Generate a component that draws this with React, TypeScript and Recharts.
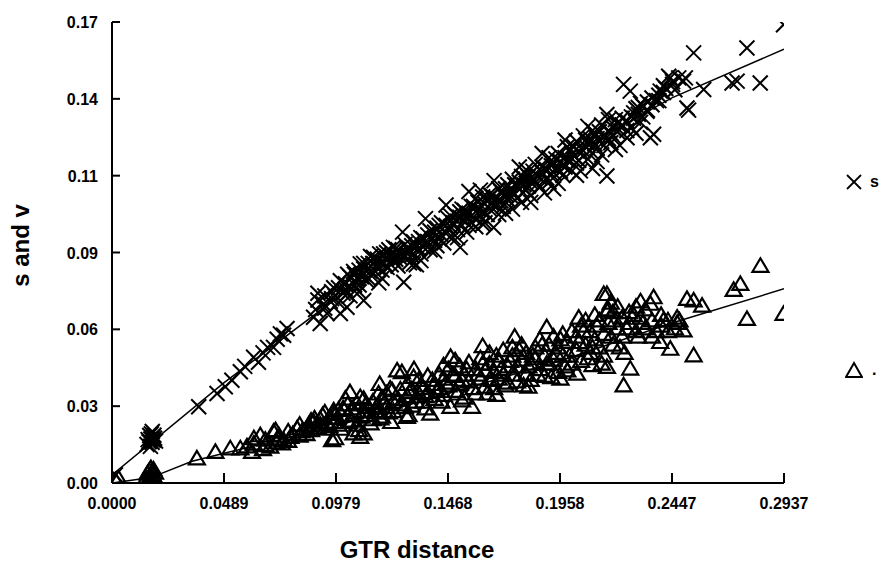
import React from 'react';
import { ScatterChart, Scatter, XAxis, YAxis } from 'recharts';

// ---- data ----
const xTicks = [0, 0.04895, 0.0979, 0.14685, 0.1958, 0.24475, 0.2937];
const xTickLabels = ['0.0000', '0.0489', '0.0979', '0.1468', '0.1958', '0.2447', '0.2937'];
const yTicks = [0, 0.028333, 0.056667, 0.085, 0.113333, 0.141667, 0.17];
const yTickLabels = ['0.00', '0.03', '0.06', '0.09', '0.11', '0.14', '0.17'];

const seriesNames = ['s', '.'];

const sPoints: [number, number][] = [
  [0.0015, 0.003], [0.0153, 0.0142], [0.0158, 0.016], [0.0162, 0.0152], [0.0165, 0.0175], [0.0168, 0.0135],
  [0.017, 0.0162], [0.0172, 0.0181], [0.0175, 0.015], [0.0178, 0.0168], [0.018, 0.0158], [0.0183, 0.0176],
  [0.0186, 0.0165], [0.019, 0.0155], [0.0176, 0.019],
  [0.0379, 0.0281], [0.0459, 0.033], [0.0495, 0.0355], [0.0524, 0.0379], [0.0561, 0.041], [0.058, 0.043],
  [0.0619, 0.0464], [0.064, 0.0445], [0.066, 0.048], [0.068, 0.05], [0.0706, 0.05], [0.0722, 0.053],
  [0.0736, 0.055], [0.0765, 0.057], [0.075, 0.0545],
  [0.0881, 0.0611], [0.089, 0.064], [0.091, 0.0588], [0.0925, 0.066], [0.094, 0.0625], [0.0954, 0.067],
  [0.0969, 0.072], [0.0975, 0.069], [0.0998, 0.0746], [0.0998, 0.0625], [0.101, 0.07], [0.1027, 0.0698],
  [0.1027, 0.0648],
  [0.1056, 0.078], [0.106, 0.073], [0.107, 0.0755], [0.1085, 0.0808], [0.109, 0.076], [0.11, 0.079],
  [0.11, 0.0673], [0.1115, 0.0746], [0.112, 0.081], [0.113, 0.078], [0.1143, 0.0832], [0.115, 0.08],
  [0.1166, 0.0738], [0.117, 0.0845], [0.1187, 0.0845], [0.119, 0.081], [0.1202, 0.0795], [0.121, 0.086],
  [0.123, 0.0869], [0.123, 0.082], [0.124, 0.084],
  [0.125, 0.08], [0.125, 0.086], [0.1275, 0.074], [0.128, 0.0835], [0.128, 0.088], [0.13, 0.0812],
  [0.13, 0.0858], [0.1318, 0.0808], [0.1318, 0.089], [0.133, 0.087], [0.135, 0.0845], [0.135, 0.0905],
  [0.135, 0.082], [0.137, 0.088], [0.139, 0.086], [0.139, 0.093], [0.14, 0.09], [0.142, 0.0875],
  [0.142, 0.094], [0.144, 0.0915], [0.144, 0.096], [0.145, 0.0885], [0.147, 0.0935], [0.147, 0.0975],
  [0.149, 0.0905], [0.149, 0.096], [0.15, 0.099], [0.1522, 0.0869], [0.153, 0.095], [0.153, 0.101],
  [0.155, 0.0925], [0.155, 0.0985], [0.157, 0.102], [0.157, 0.096], [0.159, 0.0945], [0.159, 0.1],
  [0.159, 0.105], [0.161, 0.108], [0.161, 0.0985], [0.163, 0.103], [0.163, 0.096], [0.1668, 0.0942],
  [0.165, 0.101], [0.165, 0.1065], [0.167, 0.104], [0.169, 0.099], [0.169, 0.1085], [0.171, 0.106],
  [0.171, 0.102], [0.173, 0.11], [0.173, 0.1045], [0.175, 0.101], [0.175, 0.1075], [0.175, 0.112],
  [0.177, 0.105], [0.177, 0.1095], [0.179, 0.113], [0.179, 0.1035], [0.181, 0.108], [0.181, 0.1155],
  [0.183, 0.111], [0.183, 0.106], [0.185, 0.114], [0.185, 0.1175], [0.187, 0.109], [0.187, 0.1125],
  [0.189, 0.116], [0.189, 0.107], [0.191, 0.12], [0.191, 0.111], [0.193, 0.1145], [0.193, 0.118],
  [0.195, 0.1105], [0.195, 0.1215], [0.197, 0.117], [0.197, 0.1135], [0.199, 0.124], [0.199, 0.119],
  [0.201, 0.115], [0.201, 0.1215], [0.203, 0.126], [0.203, 0.118], [0.2047, 0.1151], [0.206, 0.1225],
  [0.206, 0.128], [0.208, 0.1195], [0.208, 0.125], [0.21, 0.13], [0.21, 0.116], [0.212, 0.1235],
  [0.212, 0.127], [0.214, 0.121], [0.214, 0.132], [0.2163, 0.1132], [0.2163, 0.1359], [0.218, 0.1255],
  [0.218, 0.129], [0.22, 0.134], [0.22, 0.123], [0.2236, 0.147], [0.2251, 0.1273], [0.2265, 0.1445],
  [0.227, 0.131], [0.227, 0.135], [0.229, 0.138], [0.229, 0.129], [0.231, 0.133], [0.231, 0.14],
  [0.2338, 0.1371], [0.2353, 0.1273], [0.2367, 0.1286], [0.238, 0.141], [0.2396, 0.1445], [0.242, 0.1455],
  [0.2433, 0.15], [0.244, 0.1494], [0.246, 0.145], [0.2477, 0.1494], [0.2498, 0.1482], [0.2506, 0.1494],
  [0.2513, 0.1383], [0.252, 0.1375], [0.2542, 0.1586], [0.2586, 0.1451], [0.271, 0.1475], [0.2732, 0.1482],
  [0.2775, 0.1604], [0.2833, 0.1475], [0.2935, 0.169],
  // denser band
  [0.09, 0.0675], [0.09, 0.07], [0.093, 0.069], [0.093, 0.0645], [0.096, 0.0705], [0.096, 0.068],
  [0.099, 0.072], [0.099, 0.0665], [0.102, 0.0735], [0.102, 0.0715], [0.104, 0.076], [0.104, 0.0725],
  [0.104, 0.069], [0.106, 0.0745], [0.106, 0.077], [0.108, 0.073], [0.108, 0.0785], [0.11, 0.077],
  [0.11, 0.081], [0.112, 0.079], [0.112, 0.0755], [0.114, 0.081], [0.114, 0.0775], [0.116, 0.0795],
  [0.116, 0.0825], [0.118, 0.0815], [0.118, 0.0785], [0.12, 0.083], [0.12, 0.085], [0.122, 0.084],
  [0.122, 0.0805], [0.124, 0.0865], [0.124, 0.0825], [0.126, 0.085], [0.126, 0.083], [0.129, 0.0865],
  [0.129, 0.0845], [0.131, 0.0875], [0.131, 0.084], [0.134, 0.089], [0.134, 0.0865], [0.136, 0.09],
  [0.136, 0.087], [0.138, 0.0915], [0.138, 0.089], [0.141, 0.0925], [0.141, 0.0895], [0.143, 0.09],
  [0.143, 0.095], [0.146, 0.095], [0.146, 0.092], [0.148, 0.0945], [0.148, 0.0985], [0.151, 0.0965],
  [0.151, 0.0935], [0.152, 0.098], [0.152, 0.1], [0.154, 0.097], [0.154, 0.1005], [0.156, 0.0995],
  [0.156, 0.095], [0.158, 0.098], [0.158, 0.102], [0.16, 0.101], [0.16, 0.1035], [0.162, 0.1],
  [0.162, 0.1055], [0.164, 0.1045], [0.164, 0.099], [0.166, 0.103], [0.166, 0.106], [0.168, 0.105],
  [0.168, 0.102], [0.17, 0.1075], [0.17, 0.104], [0.172, 0.1065], [0.172, 0.1085], [0.174, 0.108],
  [0.174, 0.106], [0.176, 0.11], [0.176, 0.1065], [0.178, 0.1085], [0.178, 0.111], [0.18, 0.11],
  [0.18, 0.1125], [0.182, 0.113], [0.182, 0.1095], [0.184, 0.112], [0.184, 0.115], [0.186, 0.1135],
  [0.186, 0.1105], [0.188, 0.1145], [0.188, 0.1165], [0.19, 0.1155], [0.19, 0.1125], [0.192, 0.117],
  [0.192, 0.114], [0.194, 0.116], [0.194, 0.1195], [0.196, 0.1185], [0.196, 0.115], [0.198, 0.12],
  [0.198, 0.1165], [0.2, 0.119], [0.2, 0.123], [0.202, 0.1205], [0.202, 0.124], [0.204, 0.122],
  [0.204, 0.119], [0.207, 0.124], [0.207, 0.1265], [0.209, 0.1225], [0.209, 0.127], [0.211, 0.125],
  [0.211, 0.1285], [0.213, 0.126], [0.213, 0.1295], [0.215, 0.1275], [0.215, 0.1245], [0.217, 0.13],
  [0.217, 0.127], [0.219, 0.131], [0.219, 0.128], [0.221, 0.1295], [0.221, 0.1325], [0.223, 0.132],
  [0.223, 0.1345], [0.225, 0.1335], [0.225, 0.13], [0.228, 0.1345], [0.228, 0.1365], [0.23, 0.136],
  [0.23, 0.1385], [0.232, 0.139], [0.232, 0.135], [0.234, 0.1405], [0.234, 0.1375], [0.236, 0.142],
  [0.236, 0.1395], [0.239, 0.143], [0.239, 0.141], [0.241, 0.144], [0.241, 0.1465], [0.245, 0.147],
  [0.245, 0.148],
  // band edges
  [0.103, 0.077], [0.108, 0.0705], [0.113, 0.0835], [0.118, 0.0755], [0.127, 0.0925], [0.133, 0.0805],
  [0.137, 0.0975], [0.141, 0.0855], [0.146, 0.1025], [0.151, 0.0905], [0.156, 0.1075], [0.162, 0.0955],
  [0.167, 0.1115], [0.172, 0.0995], [0.178, 0.1165], [0.183, 0.1035], [0.188, 0.1215], [0.193, 0.1085],
  [0.198, 0.1265], [0.203, 0.1135], [0.208, 0.1315], [0.212, 0.1185], [0.217, 0.134], [0.222, 0.1245],
];

const vPoints: [number, number][] = [
  [0.0015, 0.001], [0.0029, 0.0017],
  [0.015, 0.002], [0.0155, 0.0035], [0.016, 0.001], [0.0163, 0.0045], [0.0166, 0.0025], [0.017, 0.0055],
  [0.0172, 0.0015], [0.0175, 0.004], [0.0178, 0.003], [0.0181, 0.005], [0.0185, 0.002], [0.0188, 0.0038],
  [0.0167, 0.0],
  [0.0371, 0.0091], [0.0452, 0.0115], [0.0517, 0.0128], [0.0561, 0.0128], [0.059, 0.0135], [0.0612, 0.0115],
  [0.0648, 0.0176], [0.066, 0.0125], [0.0692, 0.0134], [0.0706, 0.0189], [0.0715, 0.0195], [0.072, 0.015],
  [0.0743, 0.0146], [0.075, 0.0158], [0.078, 0.017], [0.0809, 0.0201], [0.083, 0.019], [0.086, 0.0215],
  [0.0881, 0.0225], [0.0885, 0.0238], [0.09, 0.0205], [0.092, 0.025], [0.094, 0.022], [0.0962, 0.0158],
  [0.0969, 0.0268], [0.0975, 0.0165], [0.0985, 0.024], [0.1, 0.02], [0.101, 0.0275], [0.102, 0.0311],
  [0.1035, 0.0225], [0.1056, 0.0183], [0.106, 0.026], [0.1085, 0.0317], [0.1085, 0.017], [0.109, 0.0245],
  [0.11, 0.0183], [0.111, 0.029], [0.113, 0.022], [0.115, 0.0265], [0.1165, 0.033], [0.1173, 0.0238],
  [0.119, 0.0295], [0.121, 0.026], [0.1216, 0.0348], [0.1224, 0.0342], [0.1246, 0.0415], [0.125, 0.031],
  [0.1267, 0.0409], [0.128, 0.028], [0.1289, 0.0244], [0.1296, 0.025], [0.13, 0.0335], [0.1318, 0.0391],
  [0.133, 0.03], [0.135, 0.036], [0.137, 0.032], [0.1391, 0.0256], [0.14, 0.038], [0.142, 0.034],
  [0.144, 0.03], [0.1449, 0.0434], [0.146, 0.037], [0.1479, 0.0281], [0.149, 0.04], [0.15, 0.0452],
  [0.151, 0.033], [0.153, 0.038], [0.155, 0.042], [0.1573, 0.0281], [0.158, 0.035], [0.16, 0.04],
  [0.162, 0.044], [0.164, 0.033], [0.166, 0.038], [0.168, 0.047], [0.17, 0.042], [0.172, 0.036],
  [0.174, 0.045], [0.176, 0.04], [0.178, 0.049], [0.1799, 0.036], [0.182, 0.043], [0.184, 0.047],
  [0.186, 0.04], [0.188, 0.051], [0.19, 0.044], [0.192, 0.039], [0.194, 0.048], [0.196, 0.053],
  [0.198, 0.043], [0.2, 0.047], [0.2032, 0.0403], [0.204, 0.052], [0.206, 0.056], [0.208, 0.046],
  [0.21, 0.05], [0.212, 0.058], [0.214, 0.044], [0.2149, 0.0697], [0.2163, 0.0697], [0.2163, 0.0428],
  [0.2163, 0.0636], [0.218, 0.054], [0.22, 0.06], [0.222, 0.05], [0.2236, 0.036], [0.225, 0.057],
  [0.2265, 0.0422], [0.228, 0.062], [0.23, 0.054], [0.232, 0.059], [0.2353, 0.0661], [0.2367, 0.0685],
  [0.238, 0.056], [0.2396, 0.052], [0.241, 0.06], [0.244, 0.0495], [0.246, 0.057], [0.248, 0.06],
  [0.2498, 0.0563], [0.2513, 0.0679], [0.2542, 0.0673], [0.2542, 0.0471], [0.2579, 0.0654], [0.2717, 0.0712],
  [0.2746, 0.0734], [0.2775, 0.0605], [0.2834, 0.0801], [0.2935, 0.0624],
  // denser band
  [0.062, 0.0145], [0.062, 0.0165], [0.067, 0.016], [0.067, 0.014], [0.073, 0.0175], [0.073, 0.0165],
  [0.077, 0.019], [0.077, 0.0155], [0.079, 0.018], [0.082, 0.0175], [0.082, 0.0215], [0.085, 0.02],
  [0.085, 0.018], [0.087, 0.023], [0.087, 0.0195], [0.091, 0.0215], [0.091, 0.0235], [0.093, 0.02],
  [0.093, 0.026], [0.095, 0.024], [0.095, 0.021], [0.097, 0.0225], [0.097, 0.0255], [0.099, 0.027],
  [0.099, 0.0215], [0.103, 0.025], [0.103, 0.029], [0.105, 0.023], [0.105, 0.0275], [0.107, 0.0295],
  [0.107, 0.0215], [0.11, 0.0265], [0.11, 0.031], [0.112, 0.025], [0.112, 0.028], [0.114, 0.03],
  [0.114, 0.0235], [0.116, 0.0285], [0.116, 0.026], [0.118, 0.0315], [0.118, 0.0245], [0.12, 0.028],
  [0.12, 0.033], [0.123, 0.03], [0.123, 0.0265], [0.126, 0.0345], [0.126, 0.029], [0.129, 0.032],
  [0.129, 0.0365], [0.131, 0.0285], [0.131, 0.0345], [0.134, 0.033], [0.134, 0.038], [0.136, 0.03],
  [0.136, 0.035], [0.138, 0.0395], [0.138, 0.0335], [0.141, 0.031], [0.141, 0.0365], [0.143, 0.04],
  [0.143, 0.035], [0.145, 0.0325], [0.145, 0.0385], [0.147, 0.042], [0.147, 0.036], [0.15, 0.034],
  [0.15, 0.0395], [0.152, 0.043], [0.152, 0.0365], [0.154, 0.0315], [0.154, 0.04], [0.156, 0.0375],
  [0.156, 0.0445], [0.159, 0.042], [0.159, 0.033], [0.161, 0.0385], [0.161, 0.046], [0.163, 0.0355],
  [0.163, 0.0415], [0.165, 0.044], [0.165, 0.048], [0.167, 0.035], [0.167, 0.041], [0.169, 0.045],
  [0.169, 0.0385], [0.171, 0.049], [0.171, 0.04], [0.173, 0.043], [0.173, 0.037], [0.175, 0.047],
  [0.175, 0.05], [0.177, 0.0375], [0.177, 0.043], [0.179, 0.0455], [0.179, 0.051], [0.181, 0.04],
  [0.181, 0.048], [0.183, 0.044], [0.183, 0.038], [0.185, 0.05], [0.185, 0.046], [0.187, 0.042],
  [0.187, 0.053], [0.189, 0.047], [0.189, 0.0395], [0.191, 0.051], [0.191, 0.044], [0.193, 0.0455],
  [0.193, 0.054], [0.195, 0.041], [0.195, 0.05], [0.197, 0.047], [0.197, 0.055], [0.199, 0.052],
  [0.199, 0.0415], [0.201, 0.044], [0.201, 0.056], [0.203, 0.049], [0.203, 0.054], [0.205, 0.058],
  [0.205, 0.045], [0.207, 0.051], [0.207, 0.06], [0.209, 0.048], [0.209, 0.056], [0.211, 0.053],
  [0.211, 0.062], [0.213, 0.06], [0.213, 0.05], [0.215, 0.055], [0.215, 0.047], [0.217, 0.059],
  [0.217, 0.064], [0.219, 0.051], [0.219, 0.063], [0.221, 0.057], [0.221, 0.065], [0.223, 0.061],
  [0.223, 0.054], [0.226, 0.063], [0.226, 0.059], [0.229, 0.056], [0.229, 0.065], [0.231, 0.061],
  [0.231, 0.067], [0.233, 0.057], [0.233, 0.064], [0.236, 0.06], [0.236, 0.054], [0.24, 0.062],
  [0.24, 0.058], [0.243, 0.056], [0.243, 0.06], [0.247, 0.059], [0.247, 0.061],
  // band edges
  [0.104, 0.0335], [0.108, 0.0195], [0.117, 0.0365], [0.122, 0.0225], [0.132, 0.042], [0.137, 0.0275],
  [0.148, 0.0465], [0.153, 0.0305], [0.162, 0.0505], [0.168, 0.0325], [0.176, 0.054], [0.182, 0.0355],
  [0.19, 0.0575], [0.196, 0.0385], [0.204, 0.061], [0.21, 0.0435], [0.218, 0.0665], [0.224, 0.048],
];

// fitted curves
const sFit: [number, number][] = [
  [0, 0.003], [0.049, 0.037], [0.0979, 0.068], [0.1468, 0.096], [0.1958, 0.119], [0.2447, 0.142], [0.2937, 0.16],
];
const vFit: [number, number][] = [
  [0, 0.0], [0.017, 0.002], [0.035, 0.008], [0.049, 0.011], [0.0979, 0.021], [0.1468, 0.033],
  [0.1958, 0.045], [0.2447, 0.059], [0.2937, 0.0716],
];

const toObj = (arr: [number, number][]) => arr.map(([x, y]) => ({ x, y }));

const FONT = '"Liberation Sans", Arial, sans-serif';

const Cross = (props: any) => {
  const { cx, cy } = props;
  if (cx == null || cy == null) return <g />;
  const r = 7.5;
  return (
    <g stroke="#000" strokeWidth={2}>
      <line x1={cx - r} y1={cy - r} x2={cx + r} y2={cy + r} />
      <line x1={cx - r} y1={cy + r} x2={cx + r} y2={cy - r} />
    </g>
  );
};

const Tri = (props: any) => {
  const { cx, cy } = props;
  if (cx == null || cy == null) return <g />;
  return (
    <path
      d={`M${cx},${cy - 7.5} L${cx - 8},${cy + 6} L${cx + 8},${cy + 6} Z`}
      fill="none"
      stroke="#000"
      strokeWidth={2.2}
      strokeLinejoin="miter"
    />
  );
};

const NoDot = () => <g />;

const XTick = (props: any) => {
  const { x, y, index } = props;
  return (
    <g>
      <line x1={x} y1={y} x2={x} y2={y - 10} stroke="#000" strokeWidth={2} />
      <text x={x} y={y + 26} textAnchor="middle" fontFamily={FONT} fontSize={16} fontWeight="bold" fill="#000">
        {xTickLabels[index]}
      </text>
    </g>
  );
};

const YTick = (props: any) => {
  const { x, y, index } = props;
  return (
    <g>
      <line x1={x} y1={y} x2={x + 8} y2={y} stroke="#000" strokeWidth={2} />
      <text x={x - 14} y={y + 6} textAnchor="end" fontFamily={FONT} fontSize={16} fontWeight="bold" fill="#000">
        {yTickLabels[index]}
      </text>
    </g>
  );
};

export default function App() {
  return (
    <div style={{ position: 'absolute', left: 0, top: 0, width: 882, height: 562, background: '#fff' }}>
      <ScatterChart width={882} height={562} margin={{ top: 22, right: 98, bottom: 0, left: 0 }}>
        <XAxis
          type="number"
          dataKey="x"
          domain={[0, 0.2937]}
          ticks={xTicks}
          interval={0}
          tickSize={0}
          tickMargin={0}
          height={79}
          allowDataOverflow
          axisLine={{ stroke: '#000', strokeWidth: 2 }}
          tickLine={false}
          tick={<XTick />}
          label={{
            content: (p: any) => {
              const vb = p.viewBox || { x: 112, y: 483, width: 672 };
              return (
                <text x={vb.x + vb.width / 2 - 31} y={vb.y + 75} textAnchor="middle" fontFamily={FONT} fontSize={24} fontWeight="bold" fill="#000">
                  GTR distance
                </text>
              );
            },
          }}
        />
        <YAxis
          type="number"
          dataKey="y"
          domain={[0, 0.17]}
          ticks={yTicks}
          interval={0}
          width={112}
          tickSize={0}
          tickMargin={0}
          allowDataOverflow
          axisLine={{ stroke: '#000', strokeWidth: 2 }}
          tickLine={false}
          tick={<YTick />}
          label={{
            content: (p: any) => {
              const vb = p.viewBox || { x: 0, y: 22, height: 461 };
              const cx = vb.x + 29;
              const cy = vb.y + vb.height / 2 - 7;
              return (
                <text x={cx} y={cy} transform={`rotate(-90, ${cx}, ${cy})`} textAnchor="middle" fontFamily={FONT} fontSize={24} fontWeight="bold" fill="#000">
                  s and v
                </text>
              );
            },
          }}
        />
        <Scatter name="sfit" data={toObj(sFit)} line={{ stroke: '#000', strokeWidth: 1.5 }} shape={<NoDot />} isAnimationActive={false} />
        <Scatter name="vfit" data={toObj(vFit)} line={{ stroke: '#000', strokeWidth: 1.5 }} shape={<NoDot />} isAnimationActive={false} />
        <Scatter name={seriesNames[0]} data={toObj(sPoints)} shape={<Cross />} isAnimationActive={false} />
        <Scatter name={seriesNames[1]} data={toObj(vPoints)} shape={<Tri />} isAnimationActive={false} />
      </ScatterChart>
      <div style={{ position: 'absolute', left: 845, top: 173, display: 'flex', alignItems: 'center', fontFamily: FONT, fontWeight: 'bold', fontSize: 16 }}>
        <svg width={18} height={18}>
          <line x1={2} y1={2} x2={16} y2={16} stroke="#000" strokeWidth={1.8} />
          <line x1={2} y1={16} x2={16} y2={2} stroke="#000" strokeWidth={1.8} />
        </svg>
        <span style={{ marginLeft: 7, lineHeight: '18px' }}>{seriesNames[0]}</span>
      </div>
      <div style={{ position: 'absolute', left: 845, top: 361, display: 'flex', alignItems: 'center', fontFamily: FONT, fontWeight: 'bold', fontSize: 16 }}>
        <svg width={18} height={18}>
          <path d="M9,2 L1,16 L17,16 Z" fill="none" stroke="#000" strokeWidth={2} />
        </svg>
        <span style={{ marginLeft: 9, lineHeight: '18px' }}>{seriesNames[1]}</span>
      </div>
    </div>
  );
}
